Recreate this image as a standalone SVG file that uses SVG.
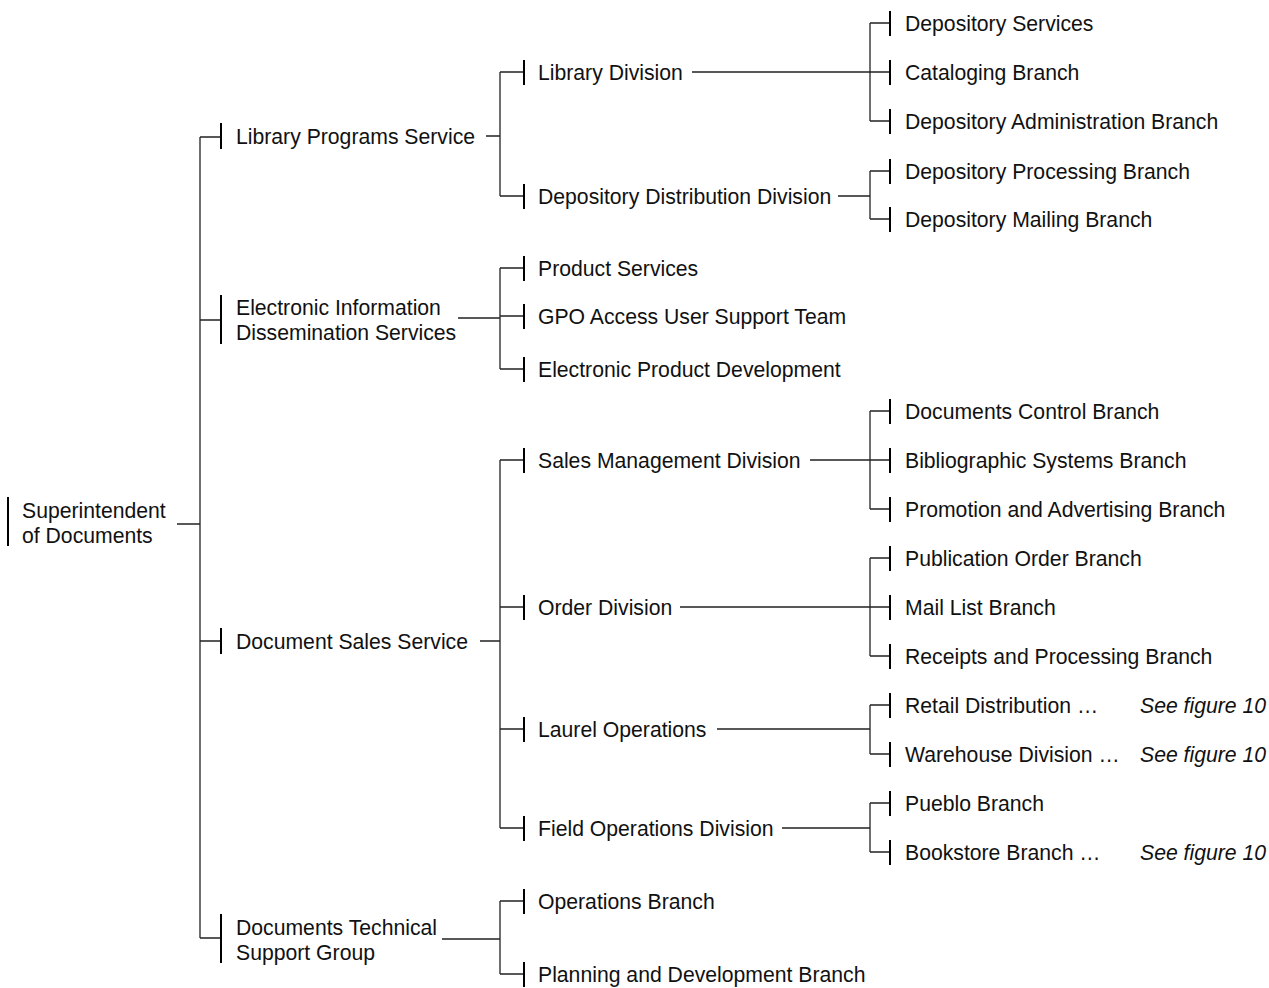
<svg xmlns="http://www.w3.org/2000/svg" width="1269" height="988" viewBox="0 0 1269 988">
<style>
text{font-family:"Liberation Sans",Arial,Helvetica,sans-serif;font-size:21.2px;fill:#111}
.it{font-style:italic}
.ln{stroke:#222;stroke-width:1.3;fill:none}
.bar{stroke:#000;stroke-width:2;fill:none}
</style>
<rect width="1269" height="988" fill="#fff"/>
<g id="connectors">
<path class="ln" d="M177 524H200M200 137V938M200 137H221M200 320H221M200 641H221M200 938H221"/>
<path class="ln" d="M486 136H500M500 72V196M500 72H524M500 196H524"/>
<path class="ln" d="M458 318H500M500 268V369M500 268H524M500 316H524M500 369H524"/>
<path class="ln" d="M480 641H500M500 460V828M500 460H524M500 607H524M500 729H524M500 828H524"/>
<path class="ln" d="M442 939H500M500 901V974M500 901H524M500 974H524"/>
<path class="ln" d="M692 72H870M870 23V121M870 23H890M870 72H890M870 121H890"/>
<path class="ln" d="M838 196H870M870 171V219M870 171H890M870 219H890"/>
<path class="ln" d="M810 460H870M870 411V509M870 411H890M870 460H890M870 509H890"/>
<path class="ln" d="M680 607H870M870 558V656M870 558H890M870 607H890M870 656H890"/>
<path class="ln" d="M717 729H870M870 705V754M870 705H890M870 754H890"/>
<path class="ln" d="M782 828H870M870 803V852M870 803H890M870 852H890"/>
</g>
<g id="n-root"><path class="bar" d="M8 497V546"/><text x="22" y="518">Superintendent</text><text x="22" y="543">of Documents</text></g>
<g id="n-lps"><path class="bar" d="M221 123V149"/><text x="236" y="144">Library Programs Service</text></g>
<g id="n-eids"><path class="bar" d="M221 295V344"/><text x="236" y="315">Electronic Information</text><text x="236" y="340">Dissemination Services</text></g>
<g id="n-dss"><path class="bar" d="M221 628V654"/><text x="236" y="649">Document Sales Service</text></g>
<g id="n-dtsg"><path class="bar" d="M221 914V963"/><text x="236" y="935">Documents Technical</text><text x="236" y="960">Support Group</text></g>
<g id="n-ld"><path class="bar" d="M524 60V85"/><text x="538" y="80">Library Division</text></g>
<g id="n-ddd"><path class="bar" d="M524 184V209"/><text x="538" y="204">Depository Distribution Division</text></g>
<g id="n-ps"><path class="bar" d="M524 256V281"/><text x="538" y="276">Product Services</text></g>
<g id="n-gpo"><path class="bar" d="M524 304V329"/><text x="538" y="324">GPO Access User Support Team</text></g>
<g id="n-epd"><path class="bar" d="M524 357V382"/><text x="538" y="377">Electronic Product Development</text></g>
<g id="n-smd"><path class="bar" d="M524 448V473"/><text x="538" y="468">Sales Management Division</text></g>
<g id="n-od"><path class="bar" d="M524 595V620"/><text x="538" y="615">Order Division</text></g>
<g id="n-lo"><path class="bar" d="M524 717V742"/><text x="538" y="737">Laurel Operations</text></g>
<g id="n-fod"><path class="bar" d="M524 816V841"/><text x="538" y="836">Field Operations Division</text></g>
<g id="n-ob"><path class="bar" d="M524 889V914"/><text x="538" y="909">Operations Branch</text></g>
<g id="n-pdb"><path class="bar" d="M524 962V987"/><text x="538" y="982">Planning and Development Branch</text></g>
<g id="n-ds"><path class="bar" d="M890 11V36"/><text x="905" y="31">Depository Services</text></g>
<g id="n-cb"><path class="bar" d="M890 60V85"/><text x="905" y="80">Cataloging Branch</text></g>
<g id="n-dab"><path class="bar" d="M890 109V134"/><text x="905" y="129">Depository Administration Branch</text></g>
<g id="n-dpb"><path class="bar" d="M890 159V184"/><text x="905" y="179">Depository Processing Branch</text></g>
<g id="n-dmb"><path class="bar" d="M890 207V232"/><text x="905" y="227">Depository Mailing Branch</text></g>
<g id="n-dcb"><path class="bar" d="M890 399V424"/><text x="905" y="419">Documents Control Branch</text></g>
<g id="n-bsb"><path class="bar" d="M890 448V473"/><text x="905" y="468">Bibliographic Systems Branch</text></g>
<g id="n-pab"><path class="bar" d="M890 497V522"/><text x="905" y="517">Promotion and Advertising Branch</text></g>
<g id="n-pob"><path class="bar" d="M890 546V571"/><text x="905" y="566">Publication Order Branch</text></g>
<g id="n-mlb"><path class="bar" d="M890 595V620"/><text x="905" y="615">Mail List Branch</text></g>
<g id="n-rpb"><path class="bar" d="M890 644V669"/><text x="905" y="664">Receipts and Processing Branch</text></g>
<g id="n-rd"><path class="bar" d="M890 693V718"/><text x="905" y="713">Retail Distribution …</text><text class="it" x="1140" y="713">See figure 10</text></g>
<g id="n-wd"><path class="bar" d="M890 742V767"/><text x="905" y="762">Warehouse Division …</text><text class="it" x="1140" y="762">See figure 10</text></g>
<g id="n-pb"><path class="bar" d="M890 791V816"/><text x="905" y="811">Pueblo Branch</text></g>
<g id="n-bb"><path class="bar" d="M890 840V865"/><text x="905" y="860">Bookstore Branch …</text><text class="it" x="1140" y="860">See figure 10</text></g>
</svg>
